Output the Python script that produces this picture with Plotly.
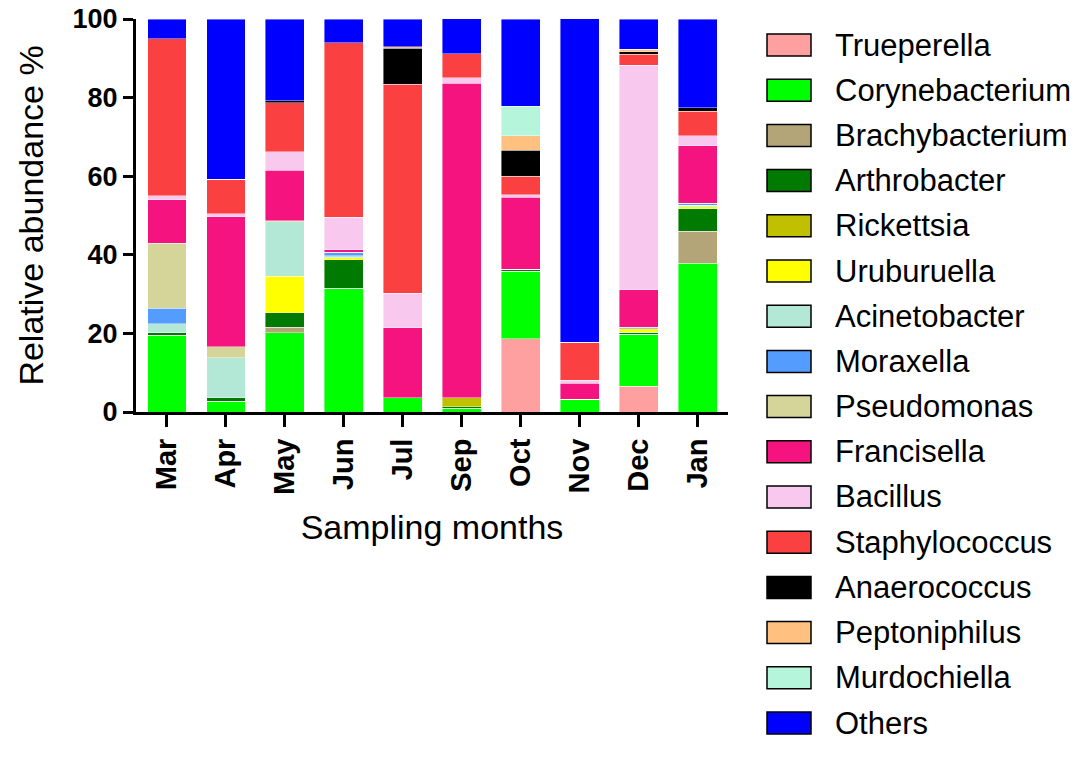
import plotly.graph_objects as go

months = ["Mar", "Apr", "May", "Jun", "Jul", "Sep", "Oct", "Nov", "Dec", "Jan"]

genera = ["Trueperella", "Corynebacterium", "Brachybacterium", "Arthrobacter",
          "Rickettsia", "Uruburuella", "Acinetobacter", "Moraxella",
          "Pseudomonas", "Francisella", "Bacillus", "Staphylococcus",
          "Anaerococcus", "Peptoniphilus", "Murdochiella", "Others"]

colors = ["#FFA0A0", "#00FF00", "#B3A577", "#007A00",
          "#C0C000", "#FFFF00", "#B3E8D6", "#559CFF",
          "#D5D59A", "#F5137F", "#F8C8EE", "#FA4040",
          "#000000", "#FFC080", "#B4F5DC", "#0000FF"]

trueperella     = [0, 0, 0, 0, 0, 0, 18.7, 0, 6.6, 0]
corynebacterium = [19.5, 2.8, 20.2, 31.5, 3.6, 1.0, 17.1, 3.2, 13.2, 37.9]
brachybacterium = [0, 0, 1.4, 0, 0, 0, 0, 0, 0, 8.1]
arthrobacter    = [0.7, 0.8, 3.7, 7.3, 0, 0.3, 0.5, 0, 0.5, 5.7]
rickettsia      = [0, 0, 0, 0, 0, 2.3, 0, 0, 0, 0]
uruburuella     = [0, 0, 9.2, 0.5, 0, 0, 0, 0, 0.9, 0.5]
acinetobacter   = [2.3, 10.2, 13.9, 0.5, 0, 0, 0, 0, 0, 0.4]
moraxella       = [3.9, 0, 0, 0.8, 0, 0, 0, 0, 0.4, 0.5]
pseudomonas     = [16.6, 2.8, 0.3, 0, 0, 0, 0, 0, 0, 0]
francisella     = [11.0, 33.1, 12.8, 0.7, 17.9, 80.1, 18.4, 4.1, 9.5, 14.6]
bacillus        = [1.0, 0.7, 4.7, 8.3, 8.7, 1.3, 0.6, 0.8, 57.1, 2.6]
staphylococcus  = [40.0, 8.8, 12.5, 44.3, 53.2, 6.2, 4.7, 9.7, 2.8, 6.2]
anaerococcus    = [0, 0, 0.5, 0, 9.2, 0, 6.6, 0, 0.7, 0.9]
peptoniphilus   = [0, 0, 0, 0, 0.4, 0, 3.7, 0, 0.6, 0]
murdochiella    = [0, 0, 0, 0, 0, 0, 7.5, 0, 0, 0]
others          = [5.0, 40.8, 20.8, 6.1, 7.0, 9.1, 22.1, 82.3, 7.7, 22.6]

series = [trueperella, corynebacterium, brachybacterium, arthrobacter,
          rickettsia, uruburuella, acinetobacter, moraxella,
          pseudomonas, francisella, bacillus, staphylococcus,
          anaerococcus, peptoniphilus, murdochiella, others]

FONT = "Liberation Sans"
W, H = 1084, 774
ML, MR, MT, MB = 136, 356, 19, 362

fig = go.Figure()
for name, vals, col in zip(genera, series, colors):
    fig.add_trace(go.Bar(
        x=months, y=vals, name=name,
        marker=dict(color=col, line=dict(color="rgba(255,255,255,0.7)", width=0.6)),
        showlegend=False,
    ))

# manual legend (large swatches like the reference); positions in page pixels
pw = W - ML - MR
ph = H - MT - MB
def px_x(p):
    return (p - ML) / pw
def px_y(p):
    return (H - MB - p) / ph

shapes = []
annotations = []
for i, (name, col) in enumerate(zip(genera, colors)):
    cy = 45 + i * 45.2
    shapes.append(dict(type="rect", xref="paper", yref="paper",
                       x0=px_x(767), x1=px_x(811), y0=px_y(cy - 11), y1=px_y(cy + 11),
                       fillcolor=col, line=dict(color="black", width=1.5)))
    annotations.append(dict(xref="paper", yref="paper", x=px_x(833), y=px_y(cy),
                            xanchor="left", yanchor="middle", showarrow=False,
                            text=name, font=dict(family=FONT, size=31, color="black")))

fig.update_layout(
    width=W, height=H,
    barmode="stack", bargap=0.34,
    plot_bgcolor="white", paper_bgcolor="white",
    margin=dict(l=ML, r=MR, t=MT, b=MB, autoexpand=False),
    shapes=shapes, annotations=annotations,
    font=dict(family=FONT, color="black"),
    xaxis=dict(
        range=[-0.525, 9.51], showline=True, linewidth=3, linecolor="black",
        ticks="outside", ticklen=12, tickwidth=3, tickcolor="black",
        tickangle=-90, tickfont=dict(family=FONT, size=29, weight="bold"),
        showgrid=False, zeroline=False, automargin=False,
        title=dict(text="Sampling months", font=dict(family=FONT, size=34), standoff=22),
    ),
    yaxis=dict(
        range=[0, 100], tickvals=[0, 20, 40, 60, 80, 100],
        showline=True, linewidth=3, linecolor="black",
        ticks="outside", ticklen=10, tickwidth=3, tickcolor="black",
        tickfont=dict(family=FONT, size=27, weight="bold"),
        ticklabeloverflow="allow",
        showgrid=False, zeroline=False, automargin=False,
        title=dict(text="Relative abundance %", font=dict(family=FONT, size=34), standoff=19),
    ),
)

fig.write_html("out.html", config={"displayModeBar": False},
               post_script="document.body.style.margin='0px';")
